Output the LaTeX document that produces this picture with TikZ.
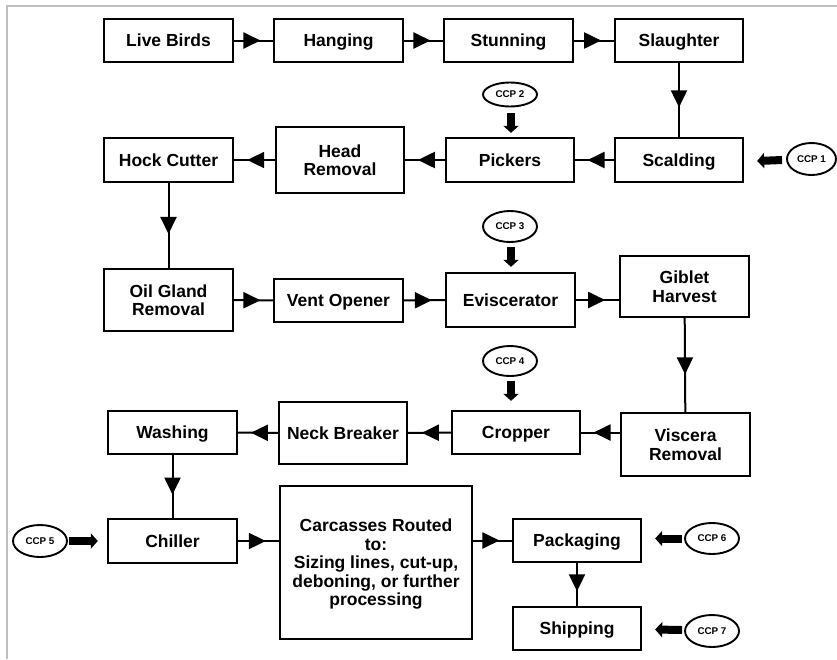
\documentclass[tikz,border=0pt]{standalone}
\usepackage{fontspec}
\setmainfont{Liberation Sans}
\usetikzlibrary{arrows.meta,decorations.markings,calc,shapes.geometric}
\begin{document}
\begin{tikzpicture}[x=1pt,y=-1pt,
  box/.style={draw,line width=2.3pt,inner sep=0pt,align=center,text depth=0pt,
    font=\bfseries\fontsize{17.5}{18.5}\selectfont},
  ccp/.style={draw,ellipse,line width=1.9pt,inner sep=0pt,
    font=\bfseries\fontsize{9.8}{10}\selectfont},
  flow/.style={line width=2pt,decoration={markings,
    mark=at position #1 with {\arrow{Triangle[length=17pt,width=16pt]}}},
    postaction={decorate}},
  flow/.default=0.68,
  ccparr/.style={line width=8pt,-{Triangle[length=7pt,width=15pt]}},
  frame/.style={draw=black!25,line width=1.5pt}
]
\useasboundingbox (0,0) rectangle (837,659);
\draw[frame] (7,659) -- (7,6) -- (837,6);

% row 1
\node[box,minimum width=129,minimum height=43] (live) at (168.5,40.5) {Live Birds};
\node[box,minimum width=129,minimum height=43] (hang) at (338.5,40.5) {Hanging};
\node[box,minimum width=129,minimum height=43] (stun) at (508.5,40.5) {Stunning};
\node[box,minimum width=128,minimum height=43] (slau) at (679,40.5) {Slaughter};
% row 2
\node[box,minimum width=129,minimum height=44] (hock) at (168.5,160) {Hock Cutter};
\node[box,minimum width=128,minimum height=66] (head) at (340,160) {Head\\Removal};
\node[box,minimum width=128,minimum height=44] (pick) at (510,160) {Pickers};
\node[box,minimum width=128,minimum height=44] (scal) at (679,160) {Scalding};
% row 3
\node[box,minimum width=129,minimum height=62] (oil) at (168.5,300) {Oil Gland\\Removal};
\node[box,minimum width=129,minimum height=43] (vent) at (338.5,300.5) {Vent Opener};
\node[box,minimum width=129,minimum height=54] (evis) at (510.5,300) {Eviscerator};
\node[box,minimum width=129,minimum height=61] (gib) at (684.5,286.5) {Giblet\\Harvest};
% row 4
\node[box,minimum width=129,minimum height=43] (wash) at (172.5,432.5) {Washing};
\node[box,minimum width=128,minimum height=62] (neck) at (343,433) {Neck Breaker};
\node[box,minimum width=128,minimum height=43] (crop) at (516,432.5) {Cropper};
\node[box,minimum width=129,minimum height=63] (visc) at (685.5,444.5) {Viscera\\Removal};
% row 5
\node[box,minimum width=129,minimum height=44] (chill) at (172.5,541) {Chiller};
\node[box,minimum width=192,minimum height=153] (carc) at (376,562.5)
  {Carcasses Routed\\to:\\Sizing lines, cut-up,\\deboning, or further\\processing};
\node[box,minimum width=128,minimum height=43] (pack) at (577,540.5) {Packaging};
\node[box,minimum width=128,minimum height=43] (ship) at (577,628.5) {Shipping};

% CCP ellipses
\node[ccp,minimum width=49,minimum height=32] (ccp1) at (811.5,159) {CCP 1};
\node[ccp,minimum width=54,minimum height=24] (ccp2) at (510,94.5) {CCP 2};
\node[ccp,minimum width=54,minimum height=31] (ccp3) at (510,226.5) {CCP 3};
\node[ccp,minimum width=54,minimum height=30] (ccp4) at (510,361) {CCP 4};
\node[ccp,minimum width=54,minimum height=32] (ccp5) at (40,541) {CCP 5};
\node[ccp,minimum width=54,minimum height=31] (ccp6) at (712,538.5) {CCP 6};
\node[ccp,minimum width=54,minimum height=32] (ccp7) at (712,631) {CCP 7};

% flow connectors
\draw[flow] (live) -- (hang);
\draw[flow] (hang) -- (stun);
\draw[flow] (stun) -- (slau);
\draw[flow=0.6] (slau) -- (scal);
\draw[flow] (scal) -- (pick);
\draw[flow] (pick) -- (head);
\draw[flow] (head) -- (hock);
\draw[flow=0.6] (hock) -- (oil);
\draw[flow] (oil) -- (vent);
\draw[flow] (vent) -- (evis);
\draw[flow] (evis.east) -- (evis.east -| gib.west);
\draw[flow=0.6] (gib) -- (visc);
\draw[flow] (visc.west |- crop.east) -- (crop.east);
\draw[flow] (crop) -- (neck);
\draw[flow] (neck) -- (wash);
\draw[flow=0.63] (wash) -- (chill);
\draw[flow] (chill.east) -- (chill.east -| carc.west);
\draw[flow] (carc.east |- pack.west) -- (pack.west);
\draw[flow=0.66] (pack) -- (ship);

% CCP arrows
\draw[ccparr] ($(ccp1.west)+(-4,1)$) -- ($(scal.east)+(13,1)$);
\draw[ccparr] ($(ccp2.south)+(1,6)$) -- ($(pick.north)+(1,-4)$);
\draw[ccparr] ($(ccp3.south)+(1,4)$) -- ($(evis.north)+(0.5,-5)$);
\draw[ccparr] ($(ccp4.south)+(1,4)$) -- ($(crop.north)+(-5,-9)$);
\draw[ccparr] ($(ccp5.east)+(1,0)$) -- ($(chill.west)+(-9,0)$);
\draw[ccparr] ($(ccp6.west)+(-2,0)$) -- ($(pack.east)+(13,-2)$);
\draw[ccparr] ($(ccp7.west)+(-2,-1)$) -- ($(ship.east)+(13,1)$);
\end{tikzpicture}
\end{document}
